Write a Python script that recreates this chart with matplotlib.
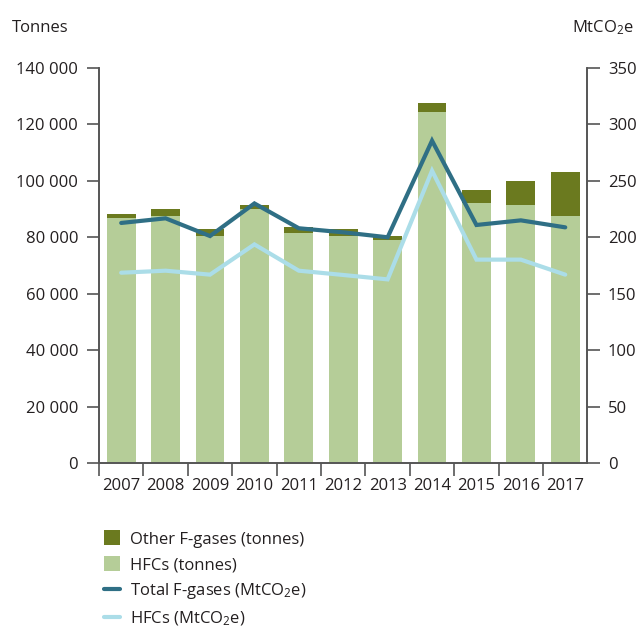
import numpy as np
import matplotlib
matplotlib.use("Agg")
import matplotlib.pyplot as plt
from matplotlib.patches import Patch
from matplotlib.lines import Line2D
from matplotlib.ticker import FuncFormatter

plt.rcParams['font.family'] = ['Open Sans', 'DejaVu Sans']
plt.rcParams['mathtext.fontset'] = 'custom'
plt.rcParams['mathtext.rm'] = 'Open Sans'
plt.rcParams['mathtext.it'] = 'Open Sans'

years = ['2007', '2008', '2009', '2010', '2011', '2012', '2013', '2014', '2015', '2016', '2017']
hfc_tonnes = [86700, 87400, 80600, 89900, 81400, 80600, 78900, 124400, 92300, 91400, 87600]
total_tonnes = [88400, 89900, 83100, 91600, 83800, 83100, 80600, 127500, 96900, 99900, 103000]
other_tonnes = [t - h for t, h in zip(total_tonnes, hfc_tonnes)]
total_mtco2e = [212.7, 216.8, 201.1, 230.0, 208.0, 204.4, 200.0, 285.6, 210.9, 215.0, 208.8]
hfc_mtco2e = [168.6, 170.4, 166.9, 193.7, 170.4, 166.6, 162.7, 259.0, 180.2, 180.2, 166.9]

C_OTHER = '#6b7a1f'
C_HFC = '#b5cd98'
C_TOTAL_LINE = '#2f6f85'
C_HFC_LINE = '#abdde8'
C_TEXT = '#231f20'
C_AXIS = '#555555'
FS = 12

fig = plt.figure(figsize=(6.38, 6.30), dpi=100)
ax = fig.add_axes([99 / 638, 1 - 463 / 630, (587 - 99) / 638, (463 - 68) / 630])
ax2 = ax.twinx()

x = np.arange(len(years))
ax.bar(x, hfc_tonnes, width=0.65, color=C_HFC, zorder=2)
ax.bar(x, other_tonnes, width=0.65, bottom=hfc_tonnes, color=C_OTHER, zorder=2)

ax2.plot(x, total_mtco2e, color=C_TOTAL_LINE, lw=3.0, solid_capstyle='round', solid_joinstyle='miter')
ax2.plot(x, hfc_mtco2e, color=C_HFC_LINE, lw=3.0, solid_capstyle='round', solid_joinstyle='miter')

ax.set_xlim(-0.47, 10.49)
ax.set_ylim(0, 140000)
ax2.set_ylim(0, 350)
ax.set_yticks(np.arange(0, 140001, 20000))
ax2.set_yticks(np.arange(0, 351, 50))
ax.yaxis.set_major_formatter(FuncFormatter(lambda v, p: f"{int(v):,}".replace(',', ' ')))

# year labels centred on bars, tick marks between bars
ax.set_xticks(x)
ax.set_xticklabels(years)
ax.set_xticks(np.arange(-0.5, 10.0, 1.0), minor=True)
ax.tick_params(axis='x', which='major', length=0, pad=11, labelsize=FS, colors=C_TEXT)
ax.tick_params(axis='x', which='minor', length=9, width=1.2, color=C_AXIS)
ax.tick_params(axis='y', length=9, width=1.2, color=C_AXIS, labelsize=FS, labelcolor=C_TEXT, pad=6)
ax2.tick_params(axis='y', length=9, width=1.2, color=C_AXIS, labelsize=FS, labelcolor=C_TEXT, pad=6)

for a in (ax, ax2):
    a.spines['top'].set_visible(False)
    for s in ('left', 'right', 'bottom'):
        a.spines[s].set_color(C_AXIS)
        a.spines[s].set_linewidth(1.2)

fig.text(12 / 638, 1 - 28 / 630, 'Tonnes', fontsize=FS, color=C_TEXT, va='center', ha='left')
fig.text(634 / 638, 1 - 28 / 630, 'MtCO$_2$e', fontsize=FS, color=C_TEXT, va='center', ha='right')

handles = [
    Patch(facecolor=C_OTHER, edgecolor='none'),
    Patch(facecolor=C_HFC, edgecolor='none'),
    Line2D([0], [0], color=C_TOTAL_LINE, lw=3, solid_capstyle='round'),
    Line2D([0], [0], color=C_HFC_LINE, lw=3, solid_capstyle='round'),
]
labels = ['Other F-gases (tonnes)', 'HFCs (tonnes)', 'Total F-gases (MtCO$_2$e)', 'HFCs (MtCO$_2$e)']
leg = fig.legend(handles, labels, loc='upper left', bbox_to_anchor=(96 / 638, 1 - 522 / 630),
                 frameon=False, fontsize=FS, handlelength=0.95, handleheight=1.0,
                 handletextpad=0.6, labelspacing=0.5, borderpad=0)
for t in leg.get_texts():
    t.set_color(C_TEXT)

fig.savefig('out.png', dpi=100)
